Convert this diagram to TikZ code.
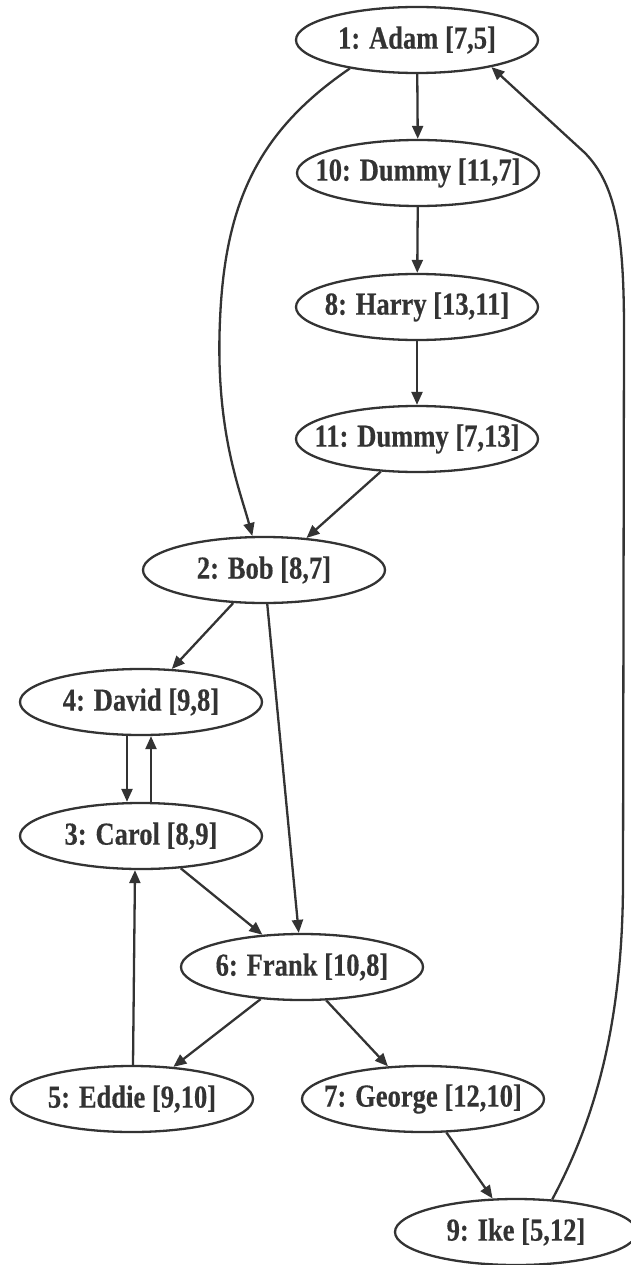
\documentclass[tikz,border=0pt]{standalone}
\usepackage{fontspec}
\setmainfont{Liberation Serif}[FakeStretch=0.83, BoldFeatures={FakeBold=0.4}]
\usetikzlibrary{shapes.geometric,arrows.meta}
\definecolor{ink}{HTML}{333333}
% the label sits in a zero-width box so the ellipse keeps its fixed size
\newcommand{\tag}[1]{\makebox[0pt][c]{\raisebox{-2.5pt}{#1}}}
\begin{document}
\begin{tikzpicture}[x=1pt,y=-1pt,
  person/.style={ellipse, draw=ink, line width=2.3pt, minimum width=242pt,
    minimum height=66pt, inner sep=0pt, text=ink,
    font=\fontsize{32}{32}\selectfont\bfseries},
  link/.style={draw=ink, line width=2.3pt, line join=round,
    -{Triangle[length=13pt,width=11pt]}}]
\useasboundingbox (0,0) rectangle (630,1265);

% people
\node[person] (adam)   at (417,40)   {\tag{1: Adam [7,5]}};
\node[person] (d10)    at (418,173)  {\tag{10: Dummy [11,7]}};
\node[person] (harry)  at (417,307)  {\tag{8: Harry [13,11]}};
\node[person] (d11)    at (417,439)  {\tag{11: Dummy [7,13]}};
\node[person] (bob)    at (264,570)  {\tag{2: Bob [8,7]}};
\node[person] (david)  at (141,702)  {\tag{4: David [9,8]}};
\node[person] (carol)  at (141,836)  {\tag{3: Carol [8,9]}};
\node[person] (frank)  at (302,967)  {\tag{6: Frank [10,8]}};
\node[person] (eddie)  at (132,1099) {\tag{5: Eddie [9,10]}};
\node[person] (george) at (423,1099) {\tag{7: George [12,10]}};
\node[person] (ike)    at (516,1232) {\tag{9: Ike [5,12]}};

% links
\draw[link] (adam) -- (d10);
\draw[link] (d10) -- (harry);
\draw[link] (harry) -- (d11);
\draw[link] (adam.203) .. controls (260,130) and (225,200) .. (220,320)
            .. controls (215,430) and (240,490) .. (bob.109);
\draw[link] (d11.222) -- (bob.37);
\draw[link] (bob) -- (david);
\draw[link] (bob) -- (frank);
\draw[link] ([xshift=-14pt]david.south) -- ([xshift=-14pt]carol.north);
\draw[link] ([xshift=10pt]carol.north) -- ([xshift=10pt]david.south);
\draw[link] (carol) -- (frank);
\draw[link] ([xshift=1pt]eddie.north) -- ([xshift=-6pt]carol.south);
\draw[link] (frank) -- (eddie);
\draw[link] (frank.306) -- (george.137);
\draw[link] (george) -- (ike);
\draw[link] (ike.42) .. controls (592,1125) and (623,1030) .. (623,880)
            -- (624,330) .. controls (624,230) and (615,184) .. (585,153)
            -- (adam.340);
\end{tikzpicture}
\end{document}
